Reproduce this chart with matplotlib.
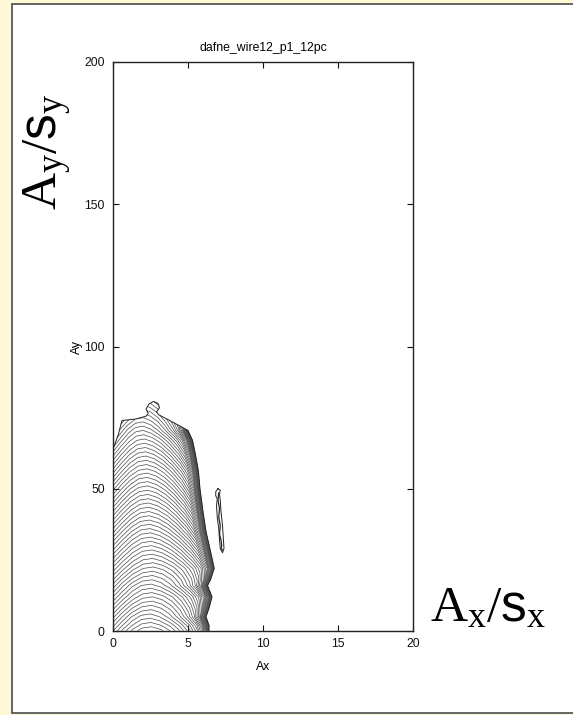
import numpy as np
import matplotlib
matplotlib.use("Agg")
import matplotlib.pyplot as plt
from matplotlib.path import Path
from matplotlib.patches import Rectangle

plt.rcParams['font.family'] = ['Liberation Sans', 'DejaVu Sans']
plt.rcParams['mathtext.fontset'] = 'custom'
plt.rcParams['mathtext.rm'] = 'Liberation Serif'
plt.rcParams['mathtext.it'] = 'Liberation Serif:italic'
plt.rcParams['mathtext.sf'] = 'Liberation Sans'

# ---------------- data ----------------
title = "dafne_wire12_p1_12pc"
x_ticks = [0, 5, 10, 15, 20]
y_ticks = [0, 50, 100, 150, 200]

# outline of the stable region (Ax, Ay)
region_ax = [0.0, 0.0, 0.15, 0.35, 0.5, 0.6, 1.5, 2.2, 2.35, 2.2, 2.4, 2.7, 3.0, 3.1, 2.9, 3.05,
             3.6, 4.3, 5.0, 5.3, 5.5, 5.7, 5.8, 6.0, 6.2, 6.5, 6.75, 6.5, 6.3, 6.6, 6.4, 6.2, 6.4, 6.4]
region_ay = [0.0, 64.0, 66.0, 69.0, 72.0, 74.0, 74.5, 75.5, 76.5, 78.0, 79.8, 80.7, 80.0, 78.5, 77.0, 76.0,
             74.5, 72.5, 70.5, 67.0, 62.0, 56.0, 50.0, 42.0, 35.0, 28.0, 22.0, 18.0, 16.0, 12.0, 8.0, 5.0, 2.0, 0.0]

# right edge of the region as a function of Ay
edge_ay = [0, 2, 5, 8, 12, 16, 18, 22, 28, 35, 42, 50, 56, 62, 67, 70.5]
edge_ax = [6.4, 6.4, 6.2, 6.4, 6.6, 6.3, 6.5, 6.75, 6.5, 6.2, 6.0, 5.8, 5.7, 5.5, 5.3, 5.0]

# rise of the contour lines across the region (u = Ax / right edge)
arch_u = [0.0, 0.1, 0.2, 0.3, 0.4, 0.5, 0.6, 0.7, 0.8, 0.87, 0.93, 0.97, 1.0, 1.05]
arch_h = [0.0, 3.5, 6.5, 8.5, 9.0, 8.0, 6.0, 3.0, -1.0, -5.0, -11.0, -20.0, -32.0, -50.0]
level_step = 1.5

# small island to the right
island_ax = [7.0, 6.85, 6.85, 6.95, 6.9, 6.95, 7.05, 7.1, 7.15, 7.3, 7.4, 7.35, 7.3, 7.2, 7.15, 7.1, 7.15, 7.0]
island_ay = [50.0, 49.0, 47.5, 46.5, 44.0, 40.0, 36.0, 32.0, 29.0, 27.5, 29.0, 33.0, 37.0, 42.0, 46.0, 48.0, 49.5, 50.0]
island_in_ax = [7.05, 7.0, 7.1, 7.05, 7.15, 7.1, 7.2, 7.25, 7.2, 7.3]
island_in_ay = [48.5, 46.0, 43.0, 40.0, 37.0, 34.0, 32.0, 30.0, 29.0, 28.5]

# ---------------- figure ----------------
W, H = 573, 715
fig = plt.figure(figsize=(W / 100, H / 100), dpi=100)
fig.patch.set_facecolor('#FFF8D6')
panel = Rectangle((12 / W, 1 - 713 / H), 1.0, (713 - 4) / H, transform=fig.transFigure,
                  facecolor='white', edgecolor='#4a4a4a', linewidth=1.2, zorder=-5)
fig.add_artist(panel)

ax = fig.add_axes([113 / W, 1 - 631 / H, 300 / W, 569 / H])
ax.set_zorder(2)
ax.set_xlim(0, 20)
ax.set_ylim(0, 200)

# build field
gx = np.linspace(0, 7.6, 700)
gy = np.linspace(0, 82, 820)
X, Y = np.meshgrid(gx, gy)
edge = np.interp(Y, edge_ay, edge_ax)
U = X / edge
Z = Y - np.interp(U, arch_u, arch_h)
poly = Path(np.column_stack([region_ax, region_ay]))
inside = poly.contains_points(np.column_stack([X.ravel(), Y.ravel()])).reshape(X.shape)
Z = np.ma.masked_where(~inside, Z)
levels = np.arange(-12, 130, level_step)
ax.contour(X, Y, Z, levels=levels, colors='#4a4a4a', linewidths=0.5,
           negative_linestyles='solid')
ax.plot(region_ax, region_ay, color='#222222', lw=0.7)
ax.plot(island_ax, island_ay, color='#222222', lw=0.7)
ax.plot(island_in_ax, island_in_ay, color='#222222', lw=0.9)

ax.set_xticks(x_ticks)
ax.set_yticks(y_ticks)
ax.tick_params(direction='in', length=4.5, width=0.8, top=True, right=True, labelsize=8.8,
               pad=5, colors='#111111')
ax.tick_params(axis='y', pad=6)
for s in ax.spines.values():
    s.set_linewidth(1.0)
    s.set_color('#222222')
ax.set_title(title, fontsize=8.8, pad=8)
ax.set_xlabel("Ax", fontsize=8.8)
ax.xaxis.set_label_coords(0.5, -0.053)
ax.set_ylabel("Ay", fontsize=8.8)
ax.yaxis.set_label_coords(-0.1, 0.5)

fig.text(48 / W, 1 - 152 / H, r'$\mathrm{A}_\mathrm{y}/\mathsf{s}_\mathrm{y}$', rotation=90,
         fontsize=37, ha='center', va='center')
fig.text(430 / W, 1 - 621 / H, r'$\mathrm{A}_\mathrm{x}/\mathsf{s}_\mathrm{x}$',
         fontsize=37, ha='left', va='baseline')

fig.savefig('out.png', dpi=100, facecolor=fig.get_facecolor())
